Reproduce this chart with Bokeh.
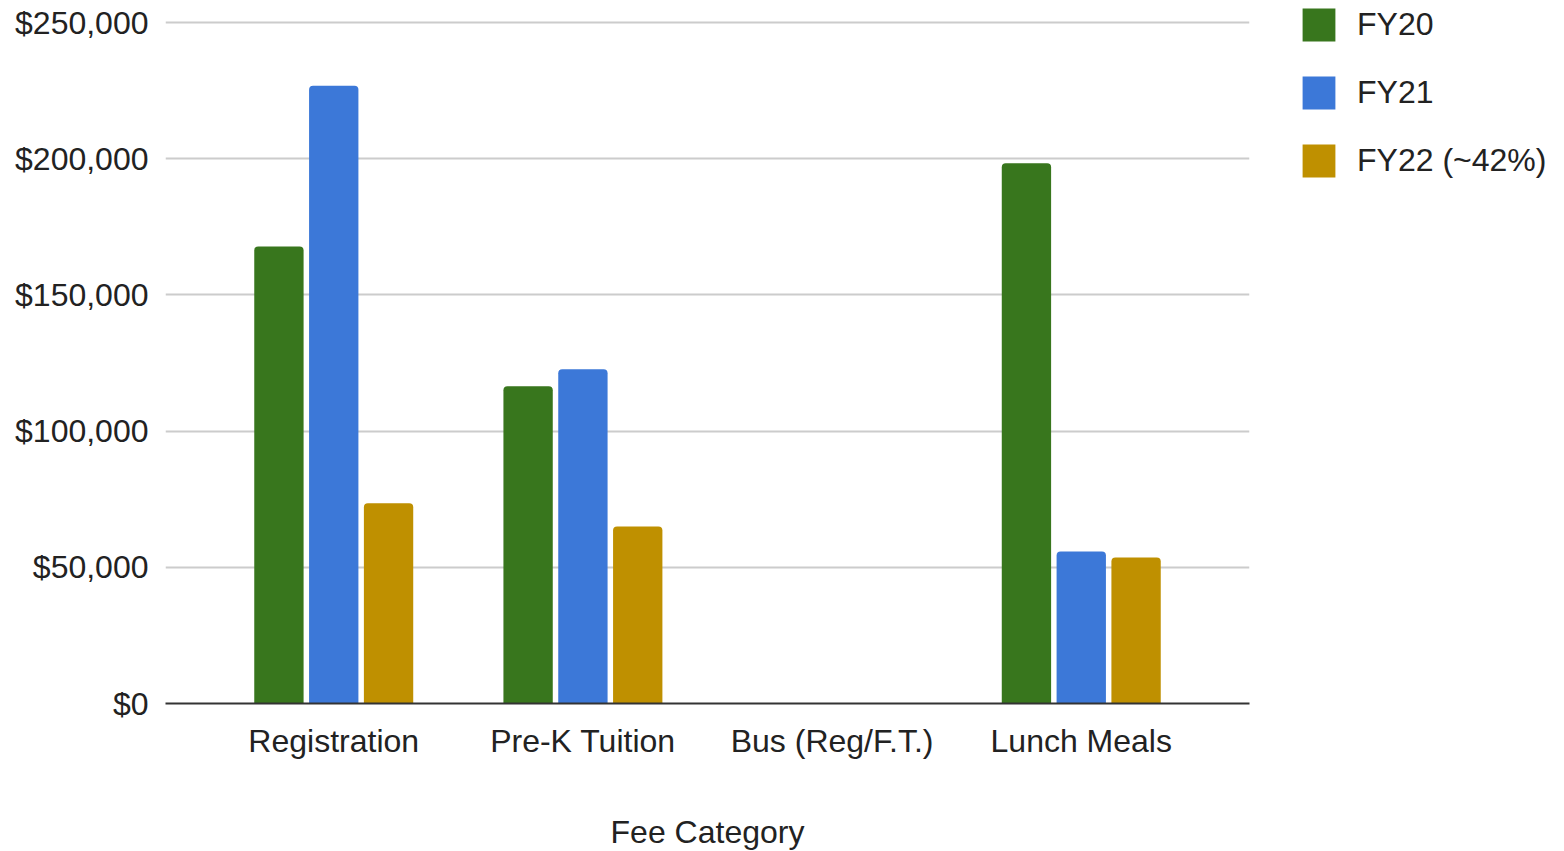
from bokeh.plotting import figure
from bokeh.models import ColumnDataSource, FactorRange, NumeralTickFormatter, Legend, LegendItem, SingleIntervalTicker
from bokeh.transform import dodge
from bokeh.embed import file_html
from bokeh.resources import INLINE

categories = ["Registration", "Pre-K Tuition", "Bus (Reg/F.T.)", "Lunch Meals"]
series_names = ["FY20", "FY21", "FY22 (~42%)"]
fy20 = [167800, 116500, 0, 198300]
fy21 = [226800, 122700, 0, 55800]
fy22 = [73500, 65000, 0, 53600]
colors = ["#38761d", "#3c78d8", "#bf9000"]
y_max_tick = 250000

FONT = "Liberation Sans"

source = ColumnDataSource(dict(cat=categories, fy20=fy20, fy21=fy21, fy22=fy22))

p = figure(
    x_range=FactorRange(*categories, range_padding=0.0876, range_padding_units="percent"),
    y_range=(0, y_max_tick * 696 / 681),
    frame_width=1084, frame_height=696,
    min_border_left=165, min_border_top=7, min_border_right=0, min_border_bottom=140,
    output_backend="svg", toolbar_location=None,
    background_fill_color="white", border_fill_color="white",
)
p.outline_line_color = None

renderers = []
for col, off, color in zip(["fy20", "fy21", "fy22"], [-0.22, 0.0, 0.22], colors):
    r = p.vbar(x=dodge("cat", off, range=p.x_range), top=col, width=0.198, source=source,
               fill_color=color, line_color=None, border_radius=(4, 4, 0, 0))
    renderers.append(r)

# y axis
p.yaxis.ticker = SingleIntervalTicker(interval=50000)
p.yaxis.formatter = NumeralTickFormatter(format="$0,0")
p.yaxis.axis_line_color = None
p.yaxis.major_tick_line_color = None
p.yaxis.minor_tick_line_color = None
p.yaxis.major_label_standoff = 11
p.yaxis.major_label_text_font = FONT
p.yaxis.major_label_text_font_size = "32px"
p.yaxis.major_label_text_color = "#222222"

# x axis
p.xaxis.axis_line_color = "#333333"
p.xaxis.axis_line_width = 2
p.xaxis.major_tick_line_color = None
p.xaxis.minor_tick_line_color = None
p.xaxis.major_label_standoff = 13
p.xaxis.major_label_text_font = FONT
p.xaxis.major_label_text_font_size = "32px"
p.xaxis.major_label_text_color = "#222222"
p.xaxis.axis_label = "Fee Category"
p.xaxis.axis_label_text_font = FONT
p.xaxis.axis_label_text_font_size = "32px"
p.xaxis.axis_label_text_font_style = "normal"
p.xaxis.axis_label_text_color = "#222222"
p.xaxis.axis_label_standoff = 52

p.xgrid.grid_line_color = None
p.ygrid.grid_line_color = "#cccccc"
p.ygrid.grid_line_width = 2

legend = Legend(
    items=[LegendItem(label=n, renderers=[r]) for n, r in zip(series_names, renderers)],
    location=(49, 522),
    orientation="vertical",
    glyph_width=41, glyph_height=41,
    label_standoff=18,
    label_text_font=FONT, label_text_font_size="32px", label_text_color="#222222",
    spacing=27, padding=0, margin=0,
    border_line_color=None, background_fill_alpha=0,
)
p.add_layout(legend, "right")

open("out.html", "w").write(file_html(p, INLINE))
